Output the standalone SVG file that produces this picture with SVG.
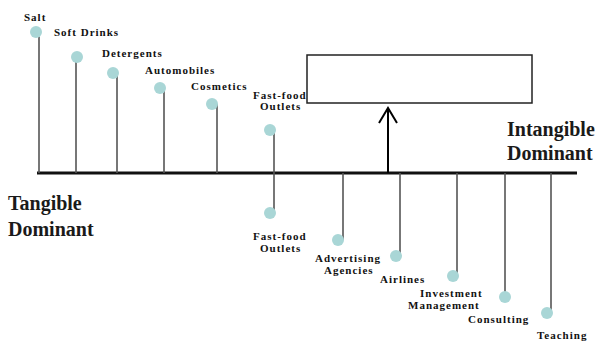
<svg xmlns="http://www.w3.org/2000/svg" width="598" height="341" viewBox="0 0 598 341">
<style>
.stem{stroke:#555;stroke-width:1.6;fill:none}
.dot{fill:#a9d6d6}
.lbl{font-family:"Liberation Serif",serif;font-weight:bold;font-size:11px;letter-spacing:1px;fill:#111}
.big{font-family:"Liberation Serif",serif;font-weight:bold;font-size:20px;fill:#1a1a1a}
</style>
<rect width="598" height="341" fill="#fff"/>
<g id="connectors">
<line x1="37" y1="173" x2="577" y2="173" stroke="#111" stroke-width="3"/>
<line class="stem" x1="39" y1="32" x2="39" y2="173"/>
<line class="stem" x1="76" y1="57" x2="76" y2="173"/>
<line class="stem" x1="117" y1="73" x2="117" y2="173"/>
<line class="stem" x1="164" y1="88" x2="164" y2="173"/>
<line class="stem" x1="217" y1="104" x2="217" y2="173"/>
<line class="stem" x1="274" y1="130" x2="274" y2="213"/>
<line class="stem" x1="343" y1="173" x2="343" y2="240"/>
<line class="stem" x1="400" y1="173" x2="400" y2="256"/>
<line class="stem" x1="457" y1="173" x2="457" y2="276"/>
<line class="stem" x1="505" y1="173" x2="505" y2="297"/>
<line class="stem" x1="551" y1="173" x2="551" y2="313"/>
<line x1="388" y1="173" x2="388" y2="109" stroke="#000" stroke-width="2"/>
<polyline points="379,123 388,108 397,123" fill="none" stroke="#000" stroke-width="2"/>
</g>
<g id="box"><rect x="307" y="55" width="225" height="48" fill="#fff" stroke="#222" stroke-width="1.5"/></g>
<g id="salt"><circle class="dot" cx="36" cy="32" r="6"/><text class="lbl" x="24" y="21">Salt</text></g>
<g id="soft-drinks"><circle class="dot" cx="77" cy="57" r="6"/><text class="lbl" x="54" y="36">Soft Drinks</text></g>
<g id="detergents"><circle class="dot" cx="113" cy="73" r="6"/><text class="lbl" x="102" y="57">Detergents</text></g>
<g id="automobiles"><circle class="dot" cx="160" cy="88" r="6"/><text class="lbl" x="145" y="74">Automobiles</text></g>
<g id="cosmetics"><circle class="dot" cx="212" cy="104" r="6"/><text class="lbl" x="191" y="90">Cosmetics</text></g>
<g id="fastfood-top"><circle class="dot" cx="270" cy="130" r="6"/><text class="lbl" x="253" y="99">Fast-food</text><text class="lbl" x="260" y="110">Outlets</text></g>
<g id="fastfood-bottom"><circle class="dot" cx="270" cy="213" r="6"/><text class="lbl" x="253" y="240">Fast-food</text><text class="lbl" x="260" y="252">Outlets</text></g>
<g id="advertising"><circle class="dot" cx="338" cy="240" r="6"/><text class="lbl" x="315" y="262">Advertising</text><text class="lbl" x="324" y="274">Agencies</text></g>
<g id="airlines"><circle class="dot" cx="396" cy="256" r="6"/><text class="lbl" x="380" y="283">Airlines</text></g>
<g id="investment"><circle class="dot" cx="453" cy="276" r="6"/><text class="lbl" x="420" y="297">Investment</text><text class="lbl" x="408" y="309">Management</text></g>
<g id="consulting"><circle class="dot" cx="505" cy="297" r="6"/><text class="lbl" x="468" y="323">Consulting</text></g>
<g id="teaching"><circle class="dot" cx="547" cy="313" r="6"/><text class="lbl" x="537" y="339">Teaching</text></g>
<g id="tangible"><text class="big" x="8" y="210">Tangible</text><text class="big" x="8" y="236">Dominant</text></g>
<g id="intangible"><text class="big" x="507" y="136">Intangible</text><text class="big" x="507" y="160">Dominant</text></g>
</svg>
